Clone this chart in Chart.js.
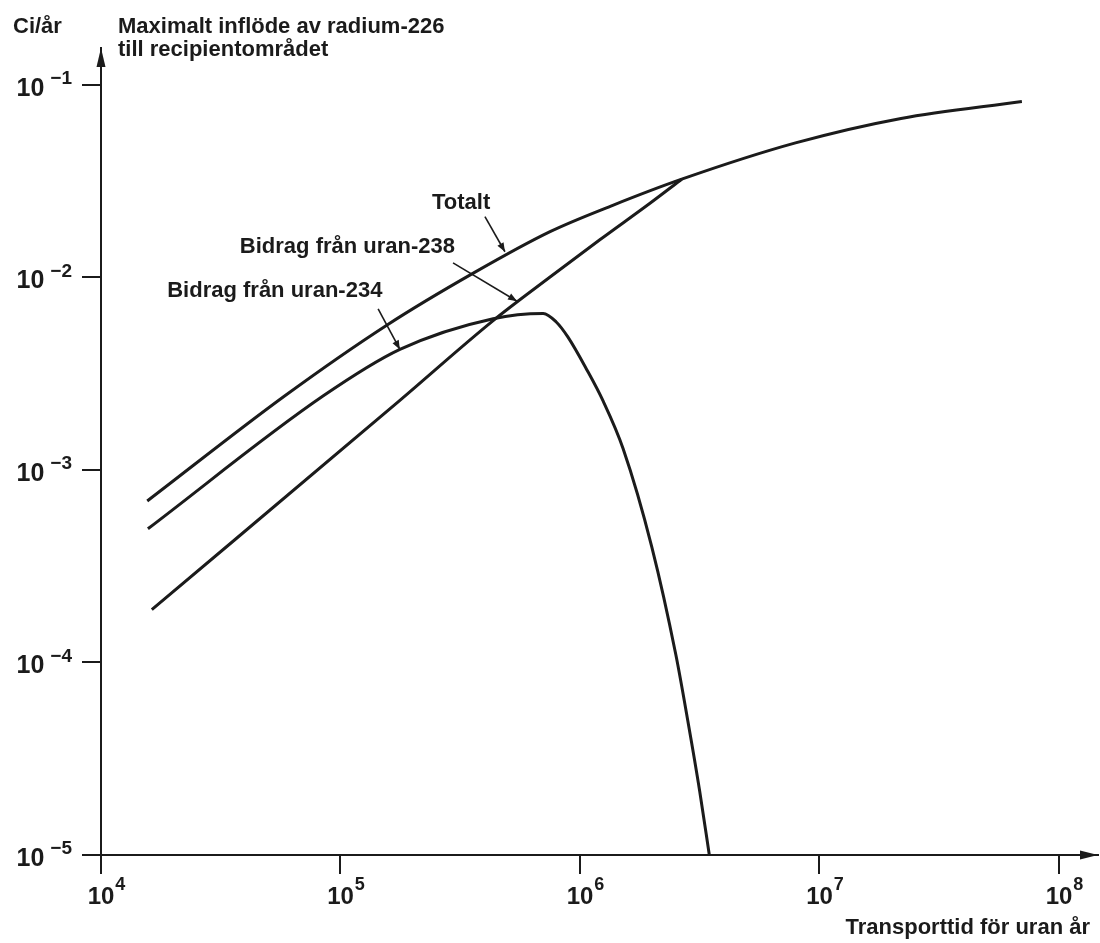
<!DOCTYPE html>
<html lang="sv">
<head>
<meta charset="utf-8">
<title>Maximalt inflöde av radium-226 till recipientområdet</title>
<script src="https://cdn.jsdelivr.net/npm/chart.js@4.4.1/dist/chart.umd.min.js"></script>
<style>
  html, body { margin: 0; padding: 0; background: #fff; }
  #wrap { position: relative; width: 1100px; height: 943px; }
</style>
</head>
<body>
<div id="wrap"><canvas id="chart"></canvas></div>
<script>
// Värden avlästa ur originalfiguren (log-log, Ci/år mot transporttid i år)
const xTicks = [1e4, 1e5, 1e6, 1e7, 1e8];
const yTicks = [1e-5, 1e-4, 1e-3, 1e-2, 1e-1];

const totaltX = [1.56e4, 5.86e4, 1.56e5, 3.57e5, 7.5e5, 1.37e6, 2.66e6, 7.94e6, 2.19e7, 7.0e7];
const totaltY = [6.9e-4, 2.43e-3, 5.65e-3, 1.05e-2, 1.73e-2, 2.37e-2, 3.24e-2, 5.0e-2, 6.7e-2, 8.2e-2];

const u238X = [1.63e4, 1.77e5, 4.34e5, 7.5e5, 1.21e6, 1.96e6, 2.66e6];
const u238Y = [1.88e-4, 2.30e-3, 5.97e-3, 1.005e-2, 1.57e-2, 2.43e-2, 3.24e-2];

const u234X = [1.57e4, 8.45e4, 1.77e5, 4.34e5, 7.02e5, 7.94e5, 8.91e5, 1.069e6, 1.247e6, 1.514e6, 1.995e6, 2.512e6, 2.818e6, 3.162e6, 3.467e6];
const u234Y = [4.95e-4, 2.42e-3, 4.23e-3, 6.11e-3, 6.5e-3, 5.89e-3, 4.9e-3, 3.31e-3, 2.29e-3, 1.29e-3, 3.98e-4, 1.1e-4, 5.0e-5, 2.14e-5, 1.0e-5];

// Kurvetiketter med pil (datakoordinater)
const labelTexts = ['Totalt', 'Bidrag från uran-238', 'Bidrag från uran-234'];
const labelX = [2.41e5, 3.8e4, 1.89e4];
const labelY = [2.43e-2, 1.445e-2, 8.51e-3];
const arrowFrom = [[4.01e5, 2.07e-2], [2.95e5, 1.19e-2], [1.436e5, 6.86e-3]];
const arrowTo = [[4.86e5, 1.36e-2], [5.46e5, 7.53e-3], [1.77e5, 4.23e-3]];

const ink = '#1b1b1b';
const family = '"Liberation Sans", Arial, Helvetica, sans-serif';

function pts(xs, ys) {
  return xs.map((x, i) => ({ x: x, y: ys[i] }));
}

function arrowHead(ctx, x0, y0, x1, y1, len, half) {
  const a = Math.atan2(y1 - y0, x1 - x0);
  ctx.beginPath();
  ctx.moveTo(x1, y1);
  ctx.lineTo(x1 - len * Math.cos(a) + half * Math.sin(a), y1 - len * Math.sin(a) - half * Math.cos(a));
  ctx.lineTo(x1 - len * Math.cos(a) - half * Math.sin(a), y1 - len * Math.sin(a) + half * Math.cos(a));
  ctx.closePath();
  ctx.fill();
}

function expText(v) {
  const e = Math.round(Math.log10(v));
  return e < 0 ? '\u2212' + Math.abs(e) : String(e);
}

const decorPlugin = {
  id: 'decor',
  afterDraw(chart) {
    const { ctx, chartArea: area, scales: { x, y } } = chart;
    ctx.save();
    ctx.fillStyle = ink;
    ctx.strokeStyle = ink;

    // pilspetsar på axlarna
    arrowHead(ctx, area.left, area.top + 40, area.left, area.top, 19, 4.5);
    arrowHead(ctx, area.right - 40, area.bottom, area.right, area.bottom, 18, 4.5);

    // tiopotenser längs x-axeln
    ctx.textBaseline = 'middle';
    x.ticks.forEach(t => {
      const px = x.getPixelForValue(t.value);
      ctx.font = 'bold 24px ' + family;
      const w = ctx.measureText('10').width;
      ctx.textAlign = 'center';
      ctx.fillText('10', px, area.bottom + 42);
      ctx.font = 'bold 18px ' + family;
      ctx.textAlign = 'left';
      ctx.fillText(expText(t.value), px + w / 2 + 1, area.bottom + 30);
    });

    // tiopotenser längs y-axeln
    y.ticks.forEach(t => {
      const py = y.getPixelForValue(t.value);
      const right = area.left - 29;
      ctx.font = 'bold 19px ' + family;
      const ex = expText(t.value);
      const we = ctx.measureText(ex).width;
      ctx.textAlign = 'right';
      ctx.fillText(ex, right, py - 6);
      ctx.font = 'bold 25px ' + family;
      ctx.fillText('10', right - we - 6, py + 4);
    });

    // rubriker
    ctx.font = 'bold 22px ' + family;
    ctx.textAlign = 'left';
    ctx.fillText('Ci/år', 13, 27);
    ctx.fillText('Maximalt inflöde av radium-226', 118, 27);
    ctx.fillText('till recipientområdet', 118, 50);
    ctx.textAlign = 'right';
    ctx.fillText('Transporttid för uran år', area.right - 8, area.bottom + 73);

    // kurvetiketter och pilar
    ctx.textAlign = 'left';
    labelTexts.forEach((txt, i) => {
      ctx.fillText(txt, x.getPixelForValue(labelX[i]), y.getPixelForValue(labelY[i]));
      const x0 = x.getPixelForValue(arrowFrom[i][0]), y0 = y.getPixelForValue(arrowFrom[i][1]);
      const x1 = x.getPixelForValue(arrowTo[i][0]), y1 = y.getPixelForValue(arrowTo[i][1]);
      ctx.lineWidth = 1.6;
      ctx.beginPath();
      ctx.moveTo(x0, y0);
      ctx.lineTo(x1, y1);
      ctx.stroke();
      arrowHead(ctx, x0, y0, x1, y1, 9, 3.5);
    });
    ctx.restore();
  }
};

const lineStyle = {
  borderColor: ink,
  borderWidth: 3,
  pointRadius: 0,
  fill: false,
  cubicInterpolationMode: 'monotone'
};

new Chart(document.getElementById('chart'), {
  type: 'line',
  data: {
    datasets: [
      { label: 'Totalt', data: pts(totaltX, totaltY), ...lineStyle },
      { label: 'Bidrag från uran-238', data: pts(u238X, u238Y), ...lineStyle },
      { label: 'Bidrag från uran-234', data: pts(u234X, u234Y), ...lineStyle }
    ]
  },
  options: {
    responsive: true,
    maintainAspectRatio: false,
    devicePixelRatio: 1,
    animation: false,
    layout: { padding: { left: 82, right: 2, top: 48, bottom: 69 } },
    plugins: { legend: { display: false }, tooltip: { enabled: false } },
    scales: {
      x: {
        type: 'logarithmic',
        min: 1e4,
        max: 1.455e8,
        afterBuildTicks: s => { s.ticks = xTicks.map(v => ({ value: v })); },
        ticks: { display: false },
        grid: { display: true, drawOnChartArea: false, drawTicks: true, tickLength: 19, color: ink, lineWidth: 2 },
        border: { display: true, color: ink, width: 2 }
      },
      y: {
        type: 'logarithmic',
        min: 1e-5,
        max: 0.1556,
        afterBuildTicks: s => { s.ticks = yTicks.map(v => ({ value: v })); },
        ticks: { display: false },
        grid: { display: true, drawOnChartArea: false, drawTicks: true, tickLength: 19, color: ink, lineWidth: 2 },
        border: { display: true, color: ink, width: 2 }
      }
    }
  },
  plugins: [decorPlugin]
});
</script>
</body>
</html>
